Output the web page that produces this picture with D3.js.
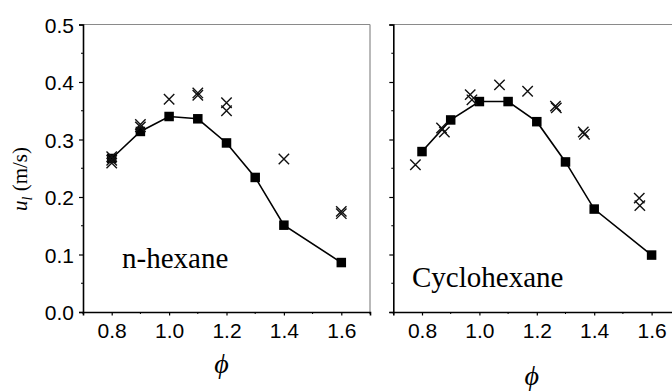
<!DOCTYPE html>
<html>
<head>
<meta charset="utf-8">
<script src="https://cdn.jsdelivr.net/npm/d3@7/dist/d3.min.js"></script>
<style>
  html, body { margin: 0; padding: 0; background: #fff; }
  svg { display: block; }
  .tick text { font-family: 'Liberation Sans', Arial, sans-serif; font-size: 21px; fill: #000; }
</style>
</head>
<body>
<svg id="chart" width="672" height="391"></svg>
<script>
// Laminar burning velocity u_l vs equivalence ratio phi
// Solid squares: computed curve; crosses: measurements
const hexanePhi = [0.8, 0.9, 1.0, 1.1, 1.2, 1.3, 1.4, 1.6];
const hexaneU   = [0.267, 0.314, 0.340, 0.336, 0.294, 0.234, 0.151, 0.086];
const hexaneExpPhi = [0.8, 0.8, 0.8, 0.9, 0.9, 1.0, 1.1, 1.1, 1.2, 1.2, 1.4, 1.6, 1.6];
const hexaneExpU   = [0.270, 0.264, 0.259, 0.326, 0.322, 0.370, 0.381, 0.377, 0.364, 0.350, 0.266, 0.175, 0.171];

const cycloPhi = [0.8, 0.9, 1.0, 1.1, 1.2, 1.3, 1.4, 1.6];
const cycloU   = [0.279, 0.334, 0.366, 0.366, 0.331, 0.261, 0.179, 0.099];
const cycloExpPhi = [0.777, 0.868, 0.878, 0.968, 0.974, 1.070, 1.168, 1.265, 1.268, 1.362, 1.366, 1.557, 1.559];
const cycloExpU   = [0.256, 0.320, 0.313, 0.378, 0.369, 0.395, 0.384, 0.358, 0.355, 0.313, 0.309, 0.198, 0.185];

const yTicks = [0.0, 0.1, 0.2, 0.3, 0.4, 0.5];
const xTicks = [0.8, 1.0, 1.2, 1.4, 1.6];
const panelLabels = ["n-hexane", "Cyclohexane"];

const svg = d3.select("#chart");
const plotTop = 24.5, plotBottom = 312;
const y = d3.scaleLinear().domain([0, 0.5]).range([plotBottom, plotTop]);

const serifFont = "'Liberation Serif', 'Times New Roman', serif";

function panel(x0, x1, sqPhi, sqU, exPhi, exU, label, labelPos, showYLabels, phiY) {
  const x = d3.scaleLinear().domain([0.7, 1.7]).range([x0, x1]);
  const g = svg.append("g");

  // frame: top and right edges in grey
  g.append("line").attr("x1", x0).attr("x2", x1).attr("y1", plotTop).attr("y2", plotTop)
    .attr("stroke", "#8a8a8a").attr("stroke-width", 1.2);
  g.append("line").attr("x1", x1).attr("x2", x1).attr("y1", plotTop).attr("y2", plotBottom)
    .attr("stroke", "#8a8a8a").attr("stroke-width", 1.2);

  // minor ticks
  const yMinor = d3.range(0.05, 0.5, 0.1);
  g.selectAll(".ym").data(yMinor).join("line")
    .attr("x1", x0 - 2).attr("x2", x0).attr("y1", d => y(d)).attr("y2", d => y(d))
    .attr("stroke", "#000").attr("stroke-width", 1);
  const xMinor = [0.7, 0.9, 1.1, 1.3, 1.5, 1.7];
  g.selectAll(".xm").data(xMinor).join("line")
    .attr("x1", d => x(d)).attr("x2", d => x(d)).attr("y1", plotBottom).attr("y2", plotBottom + 2)
    .attr("stroke", "#000").attr("stroke-width", 1);

  // y axis
  const yAxis = d3.axisLeft(y).tickValues(yTicks).tickSize(4).tickPadding(5)
    .tickFormat(showYLabels ? d3.format(".1f") : () => "");
  const ya = g.append("g").attr("transform", `translate(${x0},0)`).call(yAxis);
  ya.attr("font-size", null).attr("font-family", null);
  ya.select(".domain").attr("stroke-width", 1.6);
  ya.selectAll(".tick line").attr("stroke-width", 1.2);
  ya.selectAll("text").attr("dy", "0.36em");

  // x axis
  const xAxis = d3.axisBottom(x).tickValues(xTicks).tickSize(3.5).tickPadding(8)
    .tickFormat(d3.format(".1f"));
  const xa = g.append("g").attr("transform", `translate(0,${plotBottom})`).call(xAxis);
  xa.attr("font-size", null).attr("font-family", null);
  xa.select(".domain").attr("stroke-width", 1.6);
  xa.selectAll(".tick line").attr("stroke-width", 1.2);
  xa.selectAll("text").attr("dy", "0.71em");

  // computed curve
  const pts = sqPhi.map((p, i) => [p, sqU[i]]);
  g.append("path").datum(pts)
    .attr("d", d3.line().x(d => x(d[0])).y(d => y(d[1])))
    .attr("fill", "none").attr("stroke", "#000").attr("stroke-width", 1.6);
  const s = 9.5;
  g.selectAll(".sq").data(pts).join("rect")
    .attr("x", d => x(d[0]) - s / 2).attr("y", d => y(d[1]) - s / 2)
    .attr("width", s).attr("height", s).attr("fill", "#000");

  // measurements
  const c = 5.2;
  const ex = exPhi.map((p, i) => [p, exU[i]]);
  g.selectAll(".cx").data(ex).join("path")
    .attr("d", d => {
      const cx = x(d[0]), cy = y(d[1]);
      return `M${cx - c},${cy - c}L${cx + c},${cy + c}M${cx - c},${cy + c}L${cx + c},${cy - c}`;
    })
    .attr("fill", "none").attr("stroke", "#111").attr("stroke-width", 1.4);

  // fuel name
  g.append("text").attr("x", labelPos[0]).attr("y", labelPos[1])
    .attr("font-family", serifFont).attr("font-size", 29).attr("fill", "#000")
    .text(label);

  // phi axis title
  g.append("text").attr("x", x(1.2) - 5).attr("y", phiY).attr("text-anchor", "middle")
    .attr("font-family", serifFont).attr("font-style", "italic").attr("font-size", 28)
    .attr("fill", "#000").text("\u03D5");
}

panel(83, 370, hexanePhi, hexaneU, hexaneExpPhi, hexaneExpU, panelLabels[0], [122, 268], true, 373);
panel(393.3, 680.3, cycloPhi, cycloU, cycloExpPhi, cycloExpU, panelLabels[1], [412, 287], false, 385);

// y axis title
const yl = svg.append("text")
  .attr("transform", "translate(27,179) rotate(-90)")
  .attr("text-anchor", "middle")
  .attr("font-family", serifFont).attr("font-size", 21).attr("fill", "#000");
yl.append("tspan").attr("font-style", "italic").text("u");
yl.append("tspan").attr("font-style", "italic").attr("font-size", 14).attr("dy", 5).text("l");
yl.append("tspan").attr("dy", -5).text(" (m/s)");
</script>
</body>
</html>
